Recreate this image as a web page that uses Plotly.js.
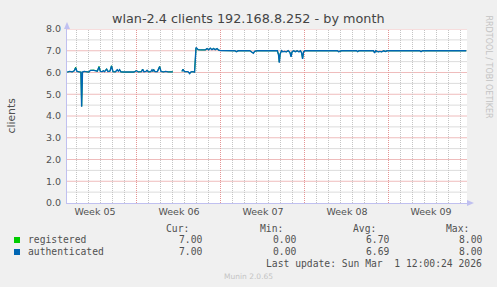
<!DOCTYPE html>
<html>
<head>
<meta charset="utf-8">
<script src="https://cdn.plot.ly/plotly-3.0.1.min.js"></script>
<style>
html,body{margin:0;padding:0;background:#f0f0f0;}
#chart{width:497px;height:287px;}
</style>
</head>
<body>
<div id="chart"></div>
<script>
// time in days since Mon 26 Jan 2026 00:00 (start of Week 05)
const days = [1.19,1.40,1.60,1.78,1.89,2.00,2.20,2.33,2.39,2.46,2.60,2.80,3.00,3.12,3.40,3.70,3.84,3.95,4.10,4.20,4.30,4.47,4.58,4.75,4.88,5.00,5.20,5.36,5.45,5.55,5.65,5.90,6.20,6.50,6.75,6.95,7.10,7.38,7.47,7.58,7.75,7.84,7.95,8.15,8.25,8.32,8.39,8.50,8.70,8.89,9.00,9.20,9.40,9.60,9.80,9.99,10.40,10.75,10.84,10.95,11.10,11.25,11.39,11.50,11.65,11.80,11.92,12.00,12.10,12.30,12.50,12.70,12.84,12.97,13.11,13.25,13.38,13.52,13.67,13.80,13.95,14.50,15.15,15.28,15.45,16.40,16.62,16.70,16.80,17.00,18.70,18.80,18.86,18.93,19.05,19.15,19.30,19.45,19.60,19.75,19.84,19.92,20.05,20.20,20.35,20.50,20.62,20.72,20.80,20.88,21.00,23.70,23.80,23.95,24.05,25.30,25.39,25.50,26.05,26.10,26.20,26.70,26.80,26.90,27.10,27.25,27.40,27.55,27.70,27.85,30.55,30.67,30.80,34.44];
const authenticated = [6.02,6.05,6.03,6.08,6.22,6.05,6.03,6.02,4.43,6.02,6.05,6.03,6.02,6.10,6.10,6.06,6.26,6.05,6.04,6.08,6.04,6.15,6.05,6.06,6.30,6.04,6.03,6.12,6.06,6.13,6.03,6.02,6.02,6.03,6.02,6.08,6.03,6.04,6.15,6.04,6.05,6.10,6.03,6.04,6.12,6.05,6.13,6.04,6.04,6.27,6.05,6.03,6.05,6.03,6.04,6.03,null,6.05,6.15,6.04,6.03,6.04,5.95,6.03,6.04,6.02,7.15,7.10,7.05,7.04,7.05,7.04,7.10,7.04,7.12,7.05,7.10,7.05,7.10,7.03,7.01,7.00,7.00,6.96,7.00,7.00,6.93,6.88,6.97,7.00,7.00,6.80,6.45,6.85,7.00,6.95,6.97,6.95,7.00,6.92,6.72,6.95,7.00,6.96,7.00,6.95,7.00,6.90,6.62,6.95,7.00,7.00,6.96,6.97,7.00,7.00,6.96,7.00,7.00,6.97,7.00,7.00,6.90,7.00,6.95,6.97,6.95,7.00,6.97,7.00,7.00,6.96,7.00,7.00];
const registered = [6.02,6.05,6.03,6.08,6.25,6.05,6.03,6.02,4.45,6.02,6.05,6.03,6.02,6.10,6.11,6.06,6.28,6.05,6.04,6.08,6.04,6.17,6.05,6.06,6.31,6.04,6.03,6.13,6.06,6.14,6.03,6.02,6.02,6.03,6.02,6.09,6.03,6.04,6.16,6.04,6.05,6.11,6.03,6.04,6.12,6.05,6.14,6.04,6.04,6.28,6.05,6.03,6.05,6.03,6.04,6.03,null,6.05,6.16,6.04,6.03,6.04,5.96,6.03,6.04,6.02,7.13,7.10,7.05,7.04,7.05,7.04,7.11,7.04,7.12,7.05,7.11,7.05,7.10,7.03,7.01,7.00,7.00,6.96,7.00,7.00,6.93,6.89,6.97,7.00,7.00,6.82,6.48,6.86,7.00,6.96,6.97,6.95,7.00,6.93,6.74,6.95,7.00,6.96,7.00,6.95,7.00,6.91,6.64,6.95,7.00,7.00,6.96,6.97,7.00,7.00,6.96,7.00,7.00,6.97,7.00,7.00,6.91,7.00,6.95,6.97,6.95,7.00,6.97,7.00,7.00,6.96,7.00,7.00];

const weekLabelPos = [3.5,10.5,17.5,24.5,31.5];
const weekLabels = ['Week 05','Week 06','Week 07','Week 08','Week 09'];
const xRange = [1.17,34.5];
const yRange = [0,8];

const seriesNames = ['registered','authenticated'];
const seriesColors = ['#00cc00','#0066b3'];
const statHeaders = ['Cur:','Min:','Avg:','Max:'];
const statsRegistered = ['7.00','0.00','6.70','8.00'];
const statsAuthenticated = ['7.00','0.00','6.69','8.00'];
const lastUpdate = 'Last update: Sun Mar\u00a0\u00a01 12:00:24 2026';

// plot area in pixels
const L=67, R=467, T=29, B=203;
const px = p => (p-L)/(R-L);
const py = p => (B-p)/(B-T);

const grey = '#c4c4c4', red = '#e49494', hgrey = '#dcdcdc', hred = '#efbcbc', axisCol = '#c0c0f0';
const txt = '#505050';
const sans = 'DejaVu Sans', mono = 'DejaVu Sans Mono';

const traces = [
  {x: days, y: registered, type:'scatter', mode:'lines', name: seriesNames[0],
   line:{color:seriesColors[0], width:1}, connectgaps:false},
  {x: days, y: authenticated, type:'scatter', mode:'lines', name: seriesNames[1],
   line:{color:seriesColors[1], width:1.4}, connectgaps:false}
];

// grid (rrdtool style: grey minor, red major)
const shapes = [];
const xpix = d => L + (d - xRange[0]) * (R-L) / (xRange[1]-xRange[0]);
for (let k = 1; k <= 16; k++) {
  const v = k * 0.5;
  shapes.push({type:'line',layer:'below',xref:'paper',yref:'y',x0:0,x1:1,y0:v,y1:v,
    line:{color: k % 2 === 0 ? hred : hgrey, width:1}});
}
for (let d = Math.ceil(xRange[0]); d <= xRange[1]; d++) {
  const c = Math.round(xpix(d) - 0.5) + 0.5;
  shapes.push({type:'line',layer:'below',xref:'paper',yref:'paper',x0:px(c),x1:px(c),y0:0,y1:1,
    line:{color: d % 7 === 0 ? red : grey, width:1, dash:'1px,1px'}});
}
shapes.push(
  {type:'rect',xref:'paper',yref:'paper',x0:px(14),x1:px(20),y0:py(237),y1:py(243),fillcolor:seriesColors[0],line:{width:0}},
  {type:'rect',xref:'paper',yref:'paper',x0:px(14),x1:px(20),y0:py(249),y1:py(255),fillcolor:seriesColors[1],line:{width:0}},
  {type:'path',xref:'paper',yref:'paper',path:`M ${px(64)} ${py(29)} L ${px(67)} ${py(22)} L ${px(70)} ${py(29)} Z`,fillcolor:axisCol,line:{width:0}},
  {type:'path',xref:'paper',yref:'paper',path:`M ${px(467)} ${py(200)} L ${px(474)} ${py(203)} L ${px(467)} ${py(206)} Z`,fillcolor:axisCol,line:{width:0}}
);

const ann = [];
ann.push({xref:'paper',yref:'paper',x:px(248.5),y:py(19),text:'wlan-2.4 clients 192.168.8.252 - by month',
  showarrow:false,xanchor:'center',yanchor:'middle',font:{family:sans,size:12.8,color:'#444'}});
ann.push({xref:'paper',yref:'paper',x:px(11),y:py(115.5),text:'clients',textangle:-90,
  showarrow:false,xanchor:'center',yanchor:'middle',font:{family:sans,size:10.8,color:txt}});
ann.push({xref:'paper',yref:'paper',x:px(488),y:py(66.5),text:'RRDTOOL / TOBI OETIKER',textangle:90,
  showarrow:false,xanchor:'center',yanchor:'middle',font:{family:sans,size:8,color:'#c4c4c4'}});
const hdrRight = [190,284,377,470];
const valRight = [203,297,390,483];
statHeaders.forEach((h,i)=>ann.push({xref:'paper',yref:'paper',x:px(hdrRight[i]+1),y:py(228.5),text:h,
  showarrow:false,xanchor:'right',yanchor:'middle',font:{family:mono,size:9.7,color:txt}}));
const rows = [[seriesNames[0],statsRegistered,239.5],[seriesNames[1],statsAuthenticated,251.5]];
rows.forEach(r=>{
  ann.push({xref:'paper',yref:'paper',x:px(26),y:py(r[2]),text:r[0],showarrow:false,xanchor:'left',yanchor:'middle',
    font:{family:mono,size:9.7,color:txt}});
  r[1].forEach((v,i)=>ann.push({xref:'paper',yref:'paper',x:px(valRight[i]+1),y:py(r[2]),text:v,showarrow:false,
    xanchor:'right',yanchor:'middle',font:{family:mono,size:9.7,color:txt}}));
});
ann.push({xref:'paper',yref:'paper',x:px(484),y:py(263.5),text:lastUpdate,showarrow:false,xanchor:'right',yanchor:'middle',
  font:{family:mono,size:9.7,color:txt}});
ann.push({xref:'paper',yref:'paper',x:px(248.5),y:py(276),text:'Munin 2.0.65',showarrow:false,xanchor:'center',yanchor:'middle',
  font:{family:sans,size:7.5,color:'#c4c4c4'}});

const layout = {
  width:497,height:287,
  margin:{l:L,r:497-R,t:T,b:287-B,pad:0},
  paper_bgcolor:'#f0f0f0',plot_bgcolor:'#ffffff',
  showlegend:false,
  xaxis:{range:xRange,tickmode:'array',tickvals:weekLabelPos,ticktext:weekLabels,showgrid:false,zeroline:false,
    tickfont:{family:sans,size:9.5,color:txt},showline:true,linecolor:axisCol,linewidth:1},
  yaxis:{range:yRange,dtick:1,tickformat:'.1f',showgrid:false,zeroline:false,
    tickfont:{family:sans,size:9.5,color:txt},ticklabelstandoff:3,
    showline:true,linecolor:axisCol,linewidth:1},
  annotations:ann,
  shapes:shapes
};

Plotly.newPlot('chart',traces,layout,{displayModeBar:false,staticPlot:true});
</script>
</body>
</html>
